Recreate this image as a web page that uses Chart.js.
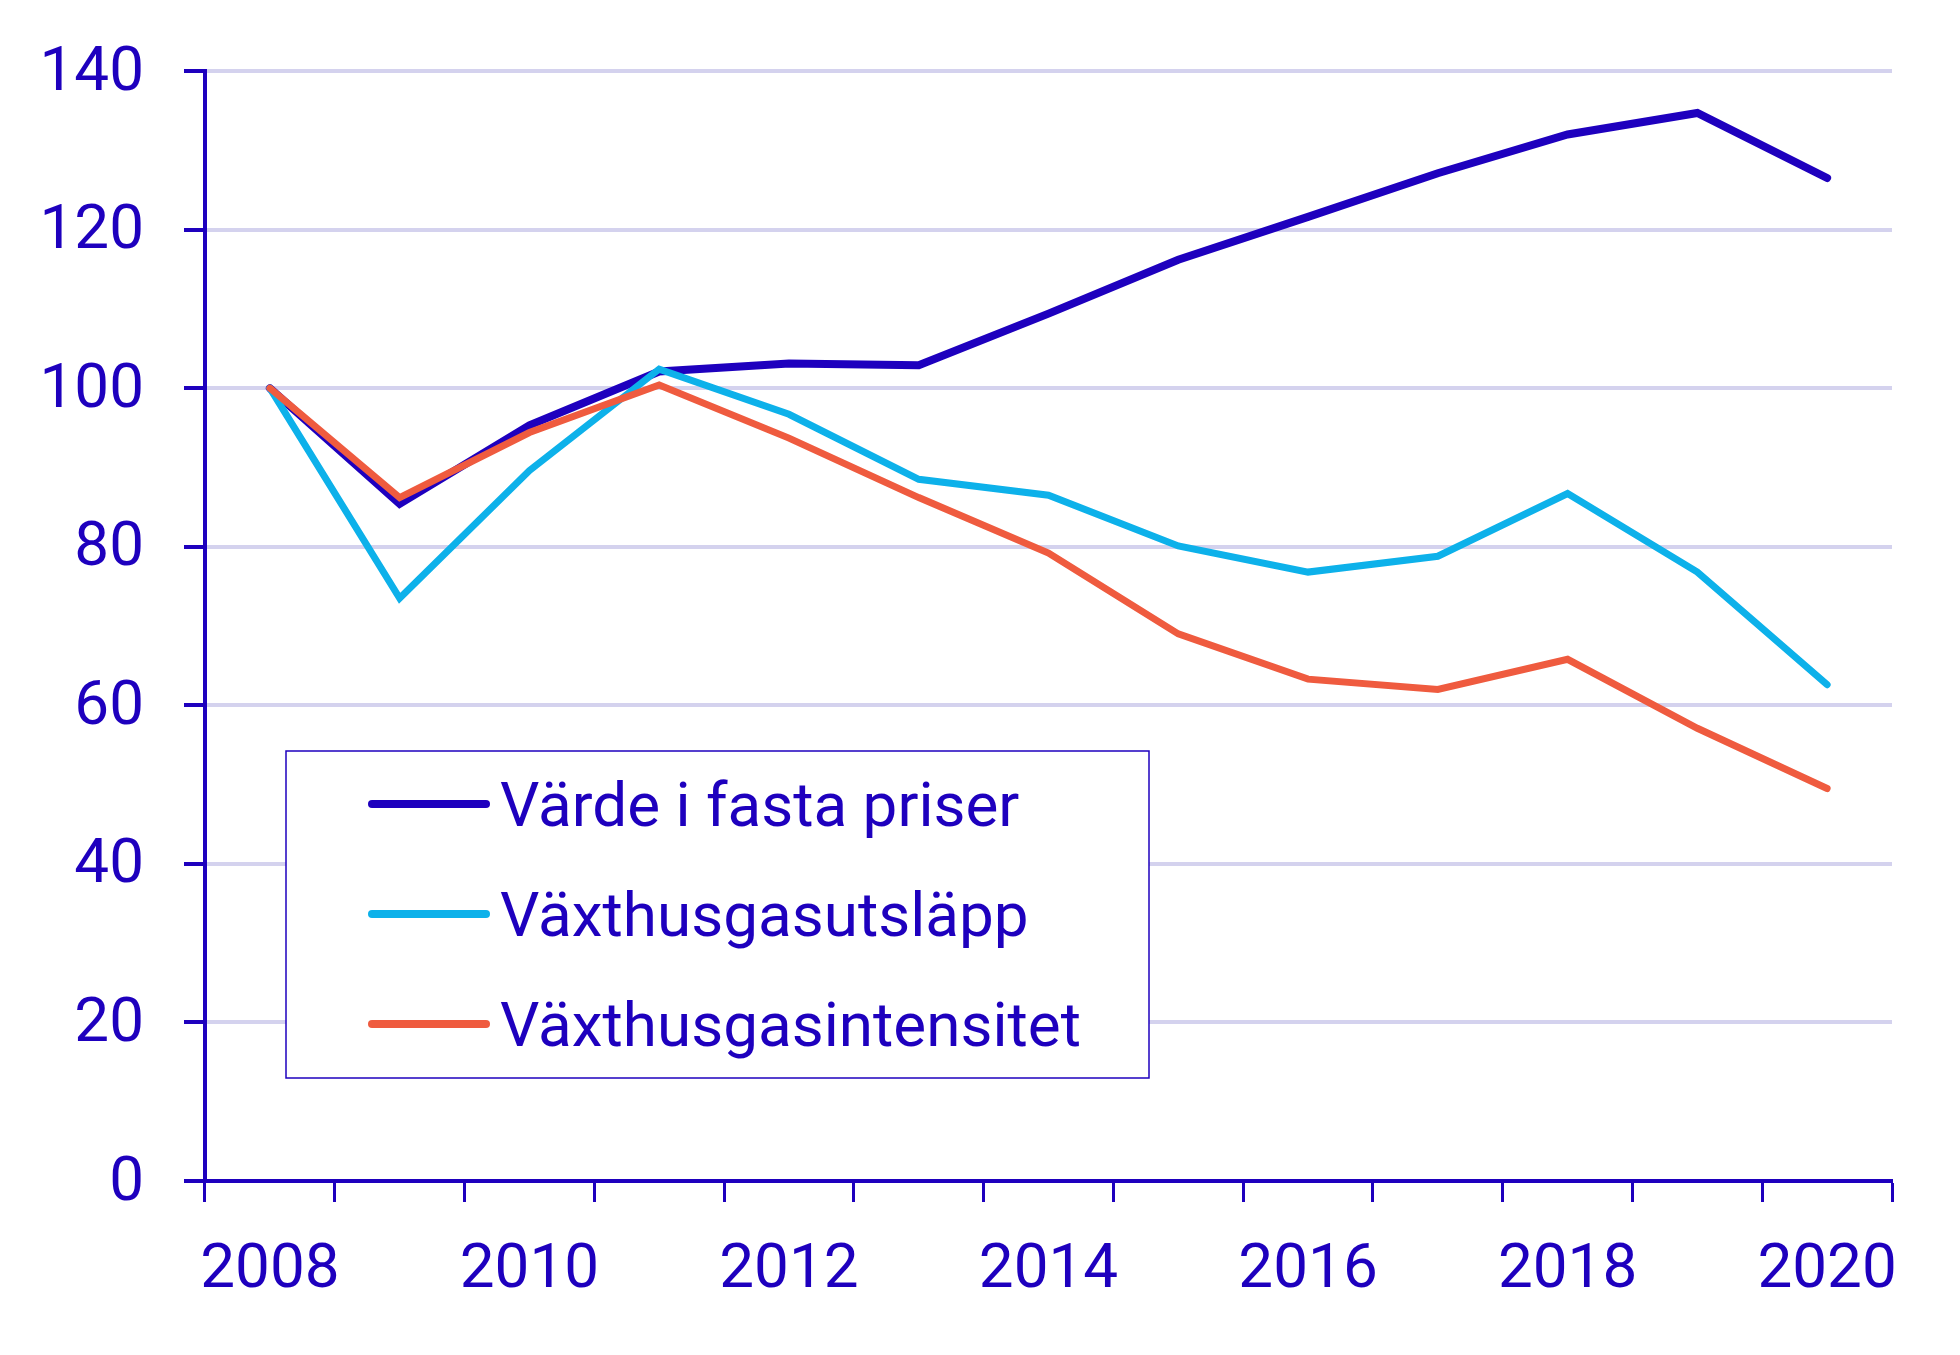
<!DOCTYPE html>
<html lang="sv">
<head>
<meta charset="utf-8">
<title>Värde, utsläpp och intensitet</title>
<script src="https://cdn.jsdelivr.net/npm/chart.js@4/dist/chart.umd.min.js"></script>
<style>
  html, body { margin: 0; padding: 0; background: #fff; }
  #wrap { width: 1960px; height: 1355px; position: relative; }
</style>
</head>
<body>
<div id="wrap"><canvas id="chart"></canvas></div>
<script>
/* Index, 2008 = 100 */

const years = ['2008', '2009', '2010', '2011', '2012', '2013', '2014', '2015', '2016', '2017', '2018', '2019', '2020'];
const vardeFastaPriser = [100, 85.4, 95.3, 102.1, 103.1, 102.9, 109.4, 116.2, 121.6, 127.1, 132.0, 134.7, 126.5];
const utslapp = [100, 73.5, 89.6, 102.4, 96.7, 88.5, 86.5, 80.1, 76.8, 78.8, 86.7, 76.8, 62.6];
const intensitet = [100, 86.2, 94.4, 100.4, 93.7, 86.2, 79.2, 69.0, 63.3, 62.0, 65.8, 57.1, 49.5];
const seriesNames = ['Värde i fasta priser', 'Växthusgasutsläpp', 'Växthusgasintensitet'];
const yTicks = [0, 20, 40, 60, 80, 100, 120, 140];

const navy = '#1e00be';
const sky = '#0db1ea';
const coral = '#ef5b3f';
const gridLav = '#d4d2ee';
const fontFam = 'Roboto, "Noto Sans", sans-serif';

// legend drawn inside the plot, white box with thin navy frame
const boxLegend = {
  id: 'boxLegend',
  afterDatasetsDraw(chart) {
    const { ctx, chartArea } = chart;
    const bx = chartArea.left + 81, by = chartArea.top + 680, bw = 863, bh = 327;
    ctx.save();
    ctx.fillStyle = '#fff';
    ctx.fillRect(bx, by, bw, bh);
    ctx.strokeStyle = navy;
    ctx.lineWidth = 1.5;
    ctx.strokeRect(bx, by, bw, bh);
    ctx.font = '62px ' + fontFam;
    ctx.textBaseline = 'alphabetic';
    ctx.lineCap = 'round';
    chart.data.datasets.forEach((ds, i) => {
      const cy = by + 53 + i * 110;
      ctx.strokeStyle = ds.borderColor;
      ctx.lineWidth = 8;
      ctx.beginPath();
      ctx.moveTo(bx + 86, cy);
      ctx.lineTo(bx + 200, cy);
      ctx.stroke();
      ctx.fillStyle = navy;
      ctx.fillText(ds.label, bx + 214, cy + 22);
    });
    ctx.restore();
  }
};

new Chart(document.getElementById('chart'), {
  type: 'line',
  data: {
    labels: years,
    datasets: [
      { label: seriesNames[0], data: vardeFastaPriser, borderColor: navy, borderWidth: 8, order: 2 },
      { label: seriesNames[1], data: utslapp, borderColor: sky, borderWidth: 7, order: 1 },
      { label: seriesNames[2], data: intensitet, borderColor: coral, borderWidth: 7, order: 0 },
    ],
  },
  options: {
    responsive: true,
    maintainAspectRatio: false,
    animation: false,
    events: [],
    layout: { padding: { left: 0, right: 68, top: 0, bottom: 15 } },
    elements: {
      point: { radius: 0 },
      line: { tension: 0, borderCapStyle: 'round', borderJoinStyle: 'miter', fill: false },
    },
    plugins: { legend: { display: false }, tooltip: { enabled: false } },
    scales: {
      x: {
        type: 'category',
        offset: true,
        border: { color: navy, width: 4 },
        grid: { offset: true, drawOnChartArea: false, drawTicks: true, tickLength: 21, tickColor: navy, tickWidth: 3 },
        ticks: {
          autoSkip: false,
          maxRotation: 0,
          padding: 38,
          color: navy,
          font: { family: fontFam, size: 62, lineHeight: 1 },
          callback: (v, i) => (i % 2 === 0 ? years[i] : ''),
        },
      },
      y: {
        min: 0,
        max: 140,
        afterBuildTicks: (scale) => { scale.ticks = yTicks.map(v => ({ value: v })); },
        afterFit: (scale) => { scale.width = 205; },
        border: { color: navy, width: 4 },
        grid: {
          color: (c) => (c.tick && c.tick.value === 0 ? 'rgba(0,0,0,0)' : gridLav),
          lineWidth: 4,
          tickLength: 21,
          tickColor: navy,
          tickWidth: 4,
        },
        ticks: {
          padding: 40,
          labelOffset: 3,
          color: navy,
          font: { family: fontFam, size: 62, lineHeight: 1 },
        },
      },
    },
  },
  plugins: [boxLegend],
});
</script>
</body>
</html>
